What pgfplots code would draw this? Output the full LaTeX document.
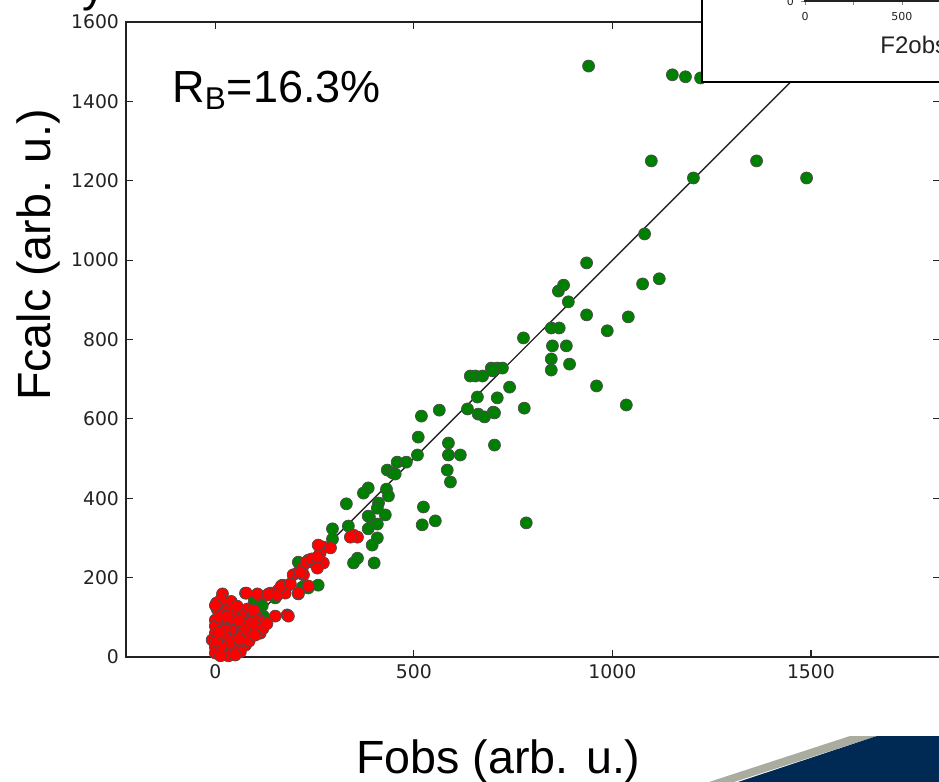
\documentclass[border=0pt]{standalone}
\usepackage{pgfplots}
\pgfplotsset{compat=1.18}
\usepackage{fontspec}
\setmainfont{Liberation Sans}
\newfontfamily\tickfont{DejaVu Sans}
\definecolor{ptgreen}{RGB}{0,128,0}
\definecolor{ptred}{RGB}{255,0,0}
\definecolor{navy}{RGB}{0,42,84}
\definecolor{stripe}{RGB}{170,172,160}
\definecolor{tickgray}{RGB}{34,34,34}

% green: strong reflections
\pgfplotstableread{
x y
940 1489
1151 1467
1184 1462
1222 1459
1098 1250
1363 1250
1204 1207
1489 1207
1081 1066
1076 940
1118 953
935 993
864 922
877 937
889 895
935 862
1040 857
987 822
776 804
846 829
866 829
849 784
884 784
846 751
892 738
846 723
960 683
1035 635
642 708
655 708
673 708
695 728
710 728
723 728
698 721
741 680
660 655
710 653
635 625
662 612
678 605
700 617
703 615
778 627
519 607
564 622
511 554
587 539
587 509
617 509
509 509
703 534
584 471
592 441
458 491
481 491
433 471
446 464
453 461
385 426
373 413
431 423
436 406
330 386
411 388
408 375
388 353
428 358
408 335
385 323
295 323
335 330
408 300
395 282
524 378
521 333
554 343
783 338
358 249
348 237
400 237
295 297
385 355
259 181
234 174
209 239
98 141
118 129
121 103
151 149
219 176
}\greendata

% red: weak reflections
\pgfplotstableread{
x y
348 307
358 302
340 302
272 277
290 275
264 262
259 282
234 244
244 239
227 237
272 237
219 224
209 212
196 207
222 207
169 181
184 181
159 169
176 161
209 159
234 179
139 161
131 156
108 156
76 161
18 159
20 136
13 111
151 103
181 106
184 103
88 113
96 111
81 111
106 101
5 76
30 86
50 88
76 93
63 76
93 76
113 60
96 60
71 55
45 63
0 60
13 43
0 25
20 10
38 23
5 10
55 35
76 30
43 50
3 136
78 161
106 159
134 159
156 156
166 179
189 184
207 212
214 212
229 239
242 247
257 252
257 224
209 161
81 121
96 118
71 98
18 76
38 68
106 68
113 93
20 35
45 43
8 18
30 13
0 10
0 93
0 78
8 50
25 68
50 25
63 13
33 3
13 3
-8 43
76 73
118 88
63 106
43 113
33 128
5 120
10 100
15 146
0 130
30 102
40 140
55 128
60 92
90 88
100 80
120 72
130 84
25 50
35 35
60 45
85 40
100 55
15 28
3 40
50 5
10 62
}\reddata

\begin{document}
\begin{tikzpicture}
\path[use as bounding box] (0,0) rectangle (469.5pt,-391pt);

\begin{axis}[
  at={(63pt,-11pt)}, anchor=north west,
  scale only axis, width=407pt, height=317.5pt,
  xmin=-225, xmax=1825, ymin=0, ymax=1600,
  xtick={0,500,1000,1500}, ytick={0,200,...,1600},
  tick align=inside, major tick length=3.5pt,
  axis line style={line width=0.6pt, tickgray},
  every tick/.style={line width=0.6pt, tickgray},
  tick label style={font=\tickfont\fontsize{9.4}{11}\selectfont, text=tickgray},
  /pgf/number format/assume math mode=true,
  /pgf/number format/1000 sep={}]
  \addplot[only marks, mark=*, mark size=3pt,
    mark options={fill=ptgreen, draw=black!70, line width=0.35pt}] table {\greendata};
  \addplot[black!85, line width=0.7pt, no marks] coordinates {(0,0) (1700,1700)};
  \addplot[only marks, mark=*, mark size=3pt,
    mark options={fill=ptred, draw=black!70, line width=0.35pt}] table {\reddata};
\end{axis}

% inset (cut off by the slide)
\fill[white] (351pt,5pt) rectangle (480pt,-41pt);
\draw[black, line width=1pt] (351pt,5pt) -- (351pt,-41pt) -- (480pt,-41pt);
\begin{axis}[
  at={(402.5pt,-0.5pt)}, anchor=south west,
  scale only axis, width=100pt, height=40pt,
  xmin=0, xmax=1031, ymin=0, ymax=1,
  xtick={0,250,500}, xticklabels={0,,500}, ytick={0},
  xtick pos=bottom, ytick pos=left,
  tick align=outside, major tick length=2pt,
  axis line style={line width=0.6pt, tickgray},
  tick label style={font=\tickfont\fontsize{5.5}{6}\selectfont, text=tickgray},
  /pgf/number format/assume math mode=true]
\end{axis}
\node[anchor=base west, inner sep=0, font=\fontsize{12}{14}\selectfont, text=tickgray]
  at (440pt,-26.5pt) {F2obs (arb. u.)};

% slide text
\node[anchor=base west, inner sep=0, font=\fontsize{23}{27}\selectfont] at (41pt,-0.5pt) {y};
\node[anchor=base west, inner sep=0, font=\fontsize{22.5}{26}\selectfont]
  at (86pt,-51pt) {R\textsubscript{B}=16.3\%};
\node[anchor=base, inner sep=0, font=\fontsize{23.3}{27}\selectfont]
  at (249.25pt,-386.5pt) {Fobs (arb. u.)};
\node[rotate=90, anchor=base, inner sep=0, font=\fontsize{23.3}{27}\selectfont]
  at (25pt,-127.5pt) {Fcalc (arb. u.)};

% slide decoration, bottom right
\fill[stripe] (354.5pt,-391pt) -- (425pt,-368pt) -- (438.5pt,-368pt) -- (367pt,-391pt) -- cycle;
\fill[navy] (366pt,-392pt) -- (438.5pt,-368pt) -- (475pt,-368pt) -- (475pt,-395pt) -- cycle;
\end{tikzpicture}
\end{document}
